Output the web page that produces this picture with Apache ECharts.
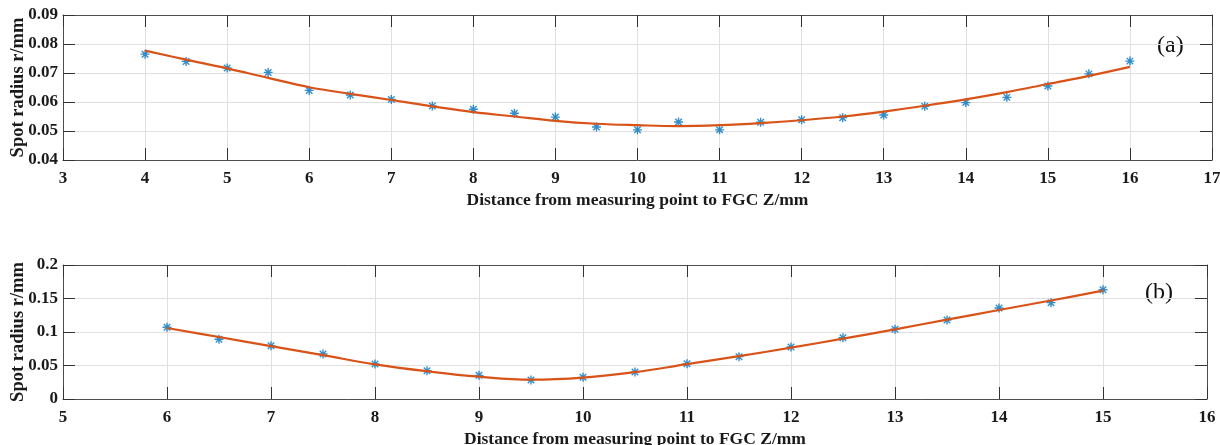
<!DOCTYPE html>
<html>
<head>
<meta charset="utf-8">
<script src="https://cdn.jsdelivr.net/npm/echarts@6/dist/echarts.min.js"></script>
<style>html,body{margin:0;padding:0;background:#fff}#c{width:1220px;height:445px}</style>
</head>
<body>
<div id="c"></div>
<script>
// Panel (a)
const xA = [4,4.5,5,5.5,6,6.5,7,7.5,8,8.5,9,9.5,10,10.5,11,11.5,12,12.5,13,13.5,14,14.5,15,15.5,16];
const measA = [0.0765,0.0740,0.0717,0.0702,0.0640,0.0624,0.0609,0.0586,0.0575,0.0561,0.0548,0.0514,0.0504,0.0531,0.0504,0.0530,0.0539,0.0546,0.0555,0.0585,0.0598,0.0616,0.0655,0.0697,0.0741];
const fitA  = [0.0777,0.0746,0.0716,0.0683,0.0651,0.0628,0.0607,0.0585,0.0565,0.0550,0.0535,0.0525,0.0520,0.0517,0.0520,0.0527,0.0537,0.0550,0.0567,0.0587,0.0609,0.0634,0.0662,0.0690,0.0721];
// Panel (b)
const xB = [6,6.5,7,7.5,8,8.5,9,9.5,10,10.5,11,11.5,12,12.5,13,13.5,14,14.5,15];
const measB = [0.1070,0.0891,0.0796,0.0672,0.0522,0.0423,0.0353,0.0284,0.0323,0.0403,0.0527,0.0632,0.0776,0.0915,0.1040,0.1179,0.1358,0.1438,0.1631];
const fitB  = [0.1060,0.0925,0.0790,0.0655,0.0518,0.0415,0.0333,0.0288,0.0318,0.0400,0.0520,0.0640,0.0766,0.0900,0.1040,0.1185,0.1328,0.1470,0.1617];
const xLabel = 'Distance from measuring point to FGC Z/mm';
const yLabel = 'Spot radius r/mm';
const panelTags = ['(a)','(b)'];

const FONT = '"Liberation Serif", "Times New Roman", serif';
const TXT = '#1a1a1a';
const AX = '#4d4d4d';
const GRIDC = '#e0e0e0';
const BLUE = '#0072BD';
const ORANGE = '#D95319';
const STAR = 'path://M0,-5L0,5M-5,0L5,0M-3.6,-3.6L3.6,3.6M-3.6,3.6L3.6,-3.6';

function fmt(v){ return parseFloat(v.toFixed(3)).toString(); }

function mainX(gi, min, max){
  return {type:'value', gridIndex:gi, min:min, max:max, interval:1,
    name:xLabel, nameLocation:'middle', nameGap:31, nameMoveOverlap:false,
    nameTextStyle:{fontFamily:FONT, fontWeight:'bold', fontSize:17.5, color:TXT},
    axisLine:{show:true, onZero:false, lineStyle:{color:AX, width:1}},
    axisTick:{show:true, inside:true, length:12, lineStyle:{color:'#333'}},
    axisLabel:{fontFamily:FONT, fontWeight:'bold', fontSize:17, color:TXT, margin:10},
    splitLine:{show:true, lineStyle:{color:GRIDC, width:1}}};
}
function topX(gi, min, max){
  return {type:'value', gridIndex:gi, position:'top', min:min, max:max, interval:1,
    axisLine:{show:true, onZero:false, lineStyle:{color:AX, width:1}},
    axisTick:{show:true, inside:true, length:12, lineStyle:{color:'#333'}},
    axisLabel:{show:false}, splitLine:{show:false}};
}
function mainY(gi, min, max, iv, dec, gap){
  return {type:'value', gridIndex:gi, min:min, max:max, interval:iv,
    name:yLabel, nameLocation:'middle', nameGap:gap, nameMoveOverlap:false,
    nameTextStyle:{fontFamily:FONT, fontWeight:'bold', fontSize:18.5, color:TXT},
    axisLine:{show:true, onZero:false, lineStyle:{color:AX, width:1}},
    axisTick:{show:true, inside:true, length:12, lineStyle:{color:'#333'}},
    axisLabel:{fontFamily:FONT, fontWeight:'bold', fontSize:17, color:TXT, margin:5,
      formatter: dec ? (v)=>v.toFixed(dec) : fmt},
    splitLine:{show:true, lineStyle:{color:GRIDC, width:1}}};
}
function rightY(gi, min, max, iv){
  return {type:'value', gridIndex:gi, position:'right', min:min, max:max, interval:iv,
    axisLine:{show:true, onZero:false, lineStyle:{color:AX, width:1}},
    axisTick:{show:true, inside:true, length:12, lineStyle:{color:'#333'}},
    axisLabel:{show:false}, splitLine:{show:false}};
}
function pairs(xs, ys){ return xs.map((x,i)=>[x, ys[i]]); }

const chart = echarts.init(document.getElementById('c'), null, {renderer:'canvas'});
chart.setOption({
  animation:false,
  backgroundColor:'#fff',
  grid:[
    {left:63, top:15, right:8, height:145, containLabel:false, outerBoundsMode:'none'},
    {left:63, top:265, right:13, height:134, containLabel:false, outerBoundsMode:'none'}
  ],
  xAxis:[mainX(0,3,17), topX(0,3,17), mainX(1,5,16), topX(1,5,16)],
  yAxis:[mainY(0,0.04,0.09,0.01,2,35), rightY(0,0.04,0.09,0.01), mainY(1,0,0.2,0.05,0,35), rightY(1,0,0.2,0.05)],
  series:[
    {type:'scatter', xAxisIndex:0, yAxisIndex:0, data:pairs(xA, measA), symbol:STAR, symbolSize:9,
      itemStyle:{color:'none', borderColor:BLUE, borderWidth:1.4}, z:3},
    {type:'line', xAxisIndex:0, yAxisIndex:0, data:pairs(xA, fitA), smooth:0.4, showSymbol:false, symbol:'none',
      lineStyle:{color:ORANGE, width:2.2}, z:4},
    {type:'scatter', xAxisIndex:2, yAxisIndex:2, data:pairs(xB, measB), symbol:STAR, symbolSize:9,
      itemStyle:{color:'none', borderColor:BLUE, borderWidth:1.4}, z:3},
    {type:'line', xAxisIndex:2, yAxisIndex:2, data:pairs(xB, fitB), smooth:0.4, showSymbol:false, symbol:'none',
      lineStyle:{color:ORANGE, width:2.2}, z:4}
  ],
  graphic:[
    {type:'text', left:1157, top:34, style:{text:panelTags[0], font:'24px "Liberation Serif", serif', fill:'#111'}},
    {type:'text', left:1145, top:281, style:{text:panelTags[1], font:'24px "Liberation Serif", serif', fill:'#111'}}
  ]
});
</script>
</body>
</html>
